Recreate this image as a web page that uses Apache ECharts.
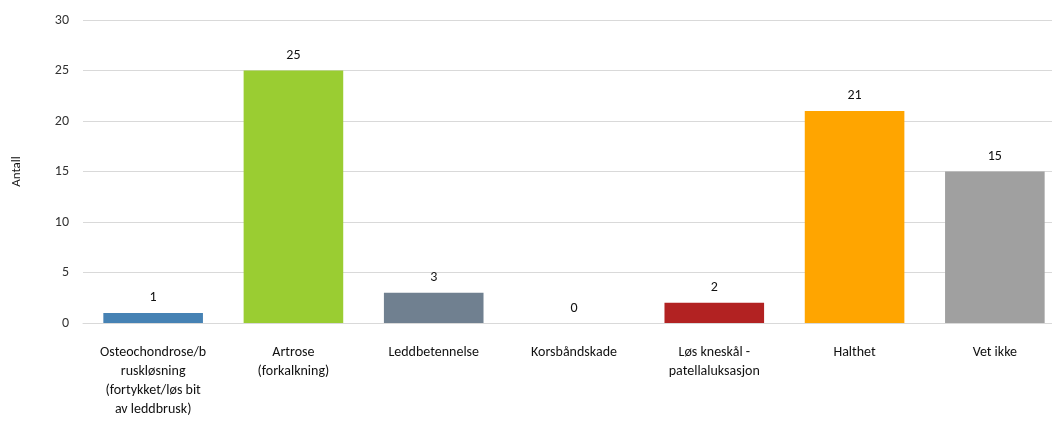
<!DOCTYPE html>
<html>
<head>
<meta charset="utf-8">
<script src="https://cdn.jsdelivr.net/npm/echarts@6/dist/echarts.min.js"></script>
<style>
  html, body { margin: 0; padding: 0; background: #fff; }
  #main { width: 1052px; height: 423px; }
</style>
</head>
<body>
<div id="main"></div>
<script>
var categories = [
  'Osteochondrose/b\nruskløsning\n(fortykket/løs bit\nav leddbrusk)',
  'Artrose\n(forkalkning)',
  'Leddbetennelse',
  'Korsbåndskade',
  'Løs kneskål -\npatellaluksasjon',
  'Halthet',
  'Vet ikke'
];
var values = [1, 25, 3, 0, 2, 21, 15];
var barColors = ['#4682B4', '#9ACD32', '#708090', '#8B4513', '#B22222', '#FFA500', '#A0A0A0'];
var yTicks = [0, 5, 10, 15, 20, 25, 30];

var font = 'Calibri, Carlito, "Liberation Sans", "DejaVu Sans", sans-serif';

var chart = echarts.init(document.getElementById('main'));
// the original chart is cut off at the right, so the plot runs past the edge
var option = {
  animation: false,
  grid: {
    top: 20,
    bottom: 100,
    left: 83,
    right: -13,
    outerBoundsMode: 'none'
  },
  xAxis: {
    type: 'category',
    data: categories,
    axisLine: { lineStyle: { color: '#d9d9d9', width: 1 } },
    axisTick: { show: false },
    axisLabel: {
      interval: 0,
      margin: 20,
      fontSize: 14,
      lineHeight: 19,
      color: '#111',
      fontFamily: font
    }
  },
  yAxis: {
    type: 'value',
    min: yTicks[0],
    max: yTicks[yTicks.length - 1],
    interval: 5,
    name: 'Antall',
    nameLocation: 'middle',
    nameGap: 60,
    nameTextStyle: { fontSize: 13, color: '#111', fontFamily: font },
    axisLine: { show: false },
    axisTick: { show: false },
    axisLabel: { fontSize: 14, color: '#333', margin: 14, fontFamily: font },
    splitLine: { lineStyle: { color: '#d9d9d9', width: 1 } }
  },
  series: [{
    type: 'bar',
    barWidth: '71%',
    data: values.map(function (v, i) {
      return { value: v, itemStyle: { color: barColors[i] } };
    }),
    label: {
      show: true,
      position: 'top',
      distance: 8,
      fontSize: 14,
      color: '#111',
      fontFamily: font
    }
  }]
};
chart.setOption(option);
</script>
</body>
</html>
